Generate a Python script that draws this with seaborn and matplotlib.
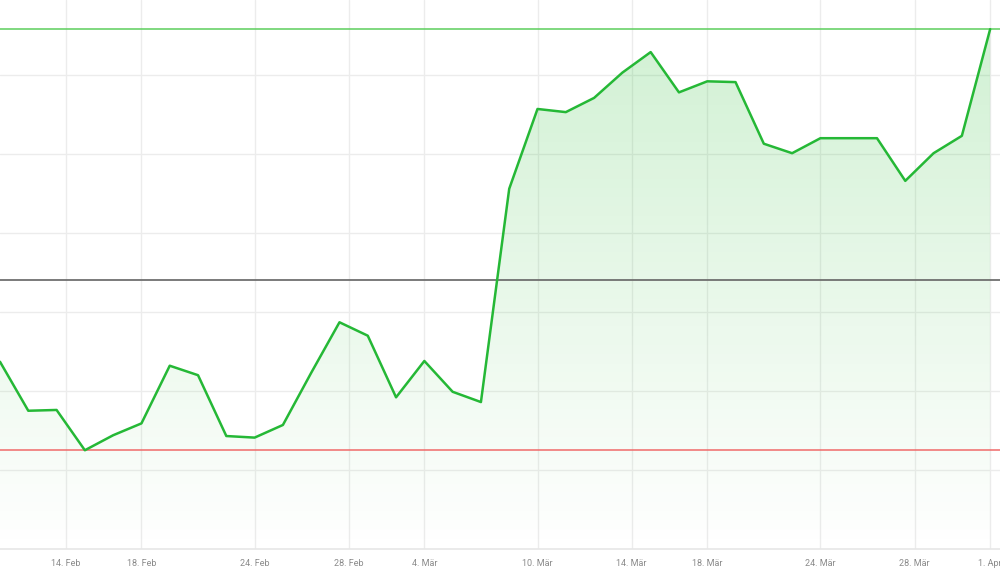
import numpy as np
import pandas as pd
import matplotlib
matplotlib.use("Agg")
import matplotlib.pyplot as plt
import seaborn as sns

# ---- data ----
prices = [32.37, 31.75, 31.76, 31.25, 31.44, 31.59, 32.32, 32.20, 31.43, 31.41,
          31.57, 32.23, 32.87, 32.70, 31.92, 32.38, 31.99, 31.86, 34.56, 35.57,
          35.53, 35.71, 36.03, 36.29, 35.78, 35.92, 35.91, 35.13, 35.01, 35.20,
          35.20, 35.20, 34.66, 35.01, 35.23, 36.58]
reference_price = 33.41
tick_labels = ["14. Feb", "18. Feb", "24. Feb", "28. Feb", "4. Mär", "10. Mär",
               "14. Mär", "18. Mär", "24. Mär", "28. Mär", "1. Apr"]
tick_positions = [2.33, 5, 9, 12.33, 15, 19, 22.33, 25, 29, 32.33, 35]

df = pd.DataFrame({"idx": np.arange(len(prices)), "price": prices})

sns.set_style("white")
plt.rcParams["font.family"] = ["Liberation Sans Narrow", "Roboto", "DejaVu Sans"]

fig = plt.figure(figsize=(10, 5.8), dpi=100)
ax = fig.add_axes([0, 31 / 580, 1, 549 / 580])

ymin, ymax = 30.0, 30.0 + 549 / 79
xmax = 1000 / 28.29
ax.set_xlim(0, xmax)
ax.set_ylim(ymin, ymax)

# grid
for g in range(31, 37):
    ax.axhline(g, color="#ececec", lw=1.0, zorder=0)
for t in tick_positions:
    ax.axvline(t, color="#ececec", lw=1.0, zorder=0)

# gradient fill under the line
xs = df["idx"].to_numpy()
ys = df["price"].to_numpy()
poly = ax.fill_between(xs, ys, ymin, color="none", lw=0)
grad = np.linspace(0.22, 0.0, 256).reshape(-1, 1)
rgba = np.zeros((256, 1, 4))
rgba[..., 0] = 0.18
rgba[..., 1] = 0.75
rgba[..., 2] = 0.22
rgba[..., 3] = grad
img = ax.imshow(rgba, aspect="auto", extent=[0, xs.max(), ymin, max(ys)],
                origin="upper", zorder=1)
path = poly.get_paths()[0]
img.set_clip_path(path, transform=ax.transData)
ax.set_xlim(0, xmax)
ax.set_ylim(ymin, ymax)

# reference lines
ax.axhline(max(prices), color="#5cce5c", lw=1.1, zorder=2)
ax.axhline(reference_price, color="#6f6f6f", lw=1.3, zorder=2)
ax.axhline(min(prices), color="#f06a6a", lw=1.1, zorder=2)

sns.lineplot(data=df, x="idx", y="price", ax=ax, color="#25b836", lw=1.8, zorder=3)

ax.set_xticks(tick_positions)
ax.set_xticklabels(tick_labels, fontsize=6.5, color="#8a8a8a")
ax.set_yticks([])
ax.set_xlabel("")
ax.set_ylabel("")
ax.tick_params(axis="x", length=0, pad=7)
for s in ["top", "right", "left"]:
    ax.spines[s].set_visible(False)
ax.spines["bottom"].set_color("#e6e6e6")
ax.spines["bottom"].set_linewidth(1.2)

fig.savefig("out.png", dpi=100)
